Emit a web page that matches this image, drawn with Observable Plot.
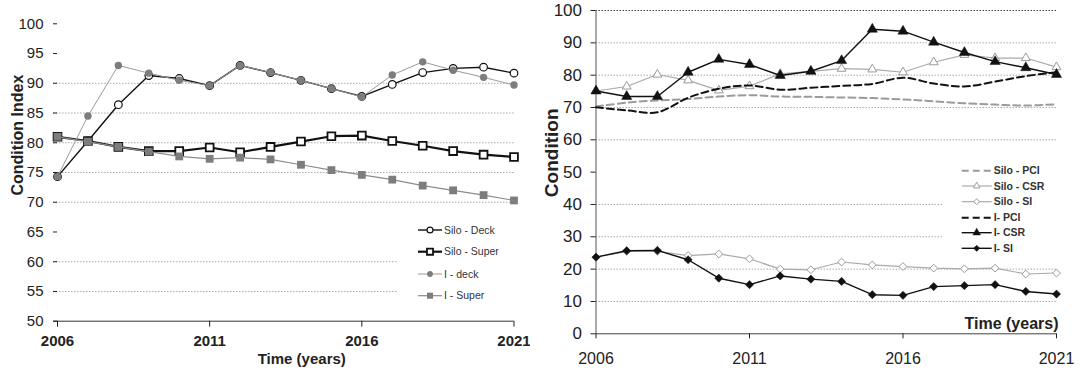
<!DOCTYPE html>
<html>
<head>
<meta charset="utf-8">
<script src="https://cdn.jsdelivr.net/npm/d3@7"></script>
<script src="https://cdn.jsdelivr.net/npm/@observablehq/plot@0.6"></script>
<style>
  body { margin: 0; background: #fff; }
  #page { position: relative; width: 1080px; height: 376px; overflow: hidden; background: #fff;
          font-family: "Liberation Sans", Arial, sans-serif; }
  #left { position: absolute; left: 0; top: 0; }
  #right { position: absolute; left: 530px; top: 0; }
  .legend { position: absolute; }
</style>
</head>
<body>
<div id="page">
  <div id="left"></div>
  <div id="right"></div>
</div>
<script>
// ---- shared time axis ----
const years = [2006, 2007, 2008, 2009, 2010, 2011, 2012, 2013, 2014, 2015, 2016, 2017, 2018, 2019, 2020, 2021];
const xTicks = [2006, 2011, 2016, 2021];

// ---- left panel: deck and superstructure condition index ----
const siloDeck  = [74.3, 80.3, 86.4, 91.3, 90.8, 89.6, 93.0, 91.8, 90.5, 89.1, 87.8, 89.8, 91.8, 92.5, 92.7, 91.7];
const siloSuper = [81.0, 80.3, 79.3, 78.6, 78.6, 79.2, 78.4, 79.3, 80.2, 81.1, 81.2, 80.3, 79.5, 78.6, 78.0, 77.6];
const iDeck     = [74.3, 84.5, 93.0, 91.7, 90.5, 89.6, 93.0, 91.8, 90.5, 89.1, 87.7, 91.4, 93.6, 92.2, 91.0, 89.7];
const iSuper    = [81.0, 80.2, 79.3, 78.5, 77.7, 77.3, 77.5, 77.2, 76.3, 75.4, 74.6, 73.8, 72.8, 72.0, 71.2, 70.3];
const leftYTicks = [50, 55, 60, 65, 70, 75, 80, 85, 90, 95, 100];
const leftGrid = [55, 60, 70, 75, 80, 85, 90];

// ---- right panel: PCI / CSR / SI condition ----
const siloPCI = [70.3, 71.5, 72.2, 72.6, 73.4, 73.8, 73.4, 73.3, 73.1, 72.9, 72.5, 71.9, 71.3, 70.9, 70.6, 71.0];
const siloCSR = [75.1, 76.5, 80.2, 78.4, 75.3, 76.6, 80.4, 81.2, 82.0, 81.8, 80.9, 84.0, 86.3, 85.3, 85.3, 82.5];
const siloSI  = [23.7, 25.5, 25.5, 24.2, 24.7, 23.2, 20.0, 19.8, 22.2, 21.3, 20.8, 20.3, 20.1, 20.3, 18.5, 18.8];
const iPCI    = [70.1, 69.1, 68.5, 73.0, 75.8, 76.8, 75.5, 76.1, 76.7, 77.3, 79.2, 77.4, 76.5, 78.0, 79.7, 80.9];
const iCSR    = [75.1, 73.4, 73.4, 80.9, 84.9, 83.3, 79.9, 81.2, 84.5, 94.2, 93.6, 90.2, 87.0, 84.2, 82.3, 80.2];
const iSI     = [23.7, 25.7, 25.8, 22.9, 17.2, 15.2, 17.9, 16.9, 16.2, 12.1, 11.9, 14.6, 14.9, 15.2, 13.1, 12.3];
const rightYTicks = [0, 10, 20, 30, 40, 50, 60, 70, 80, 90, 100];
const rightGrid = [10, 20, 30, 40, 60, 70, 80, 90];

const FONT = '"Liberation Sans", Arial, sans-serif';
const rows = (values) => values.map((v, i) => ({year: years[i], value: v}));

// series appearance (drawn in this order, later on top)
const leftSeries = [
  {label: "Silo - Deck",  values: siloDeck,  stroke: "#111", width: 1.4, symbol: "circle", r: 3.8, fill: "#fff", mstroke: "#111", mwidth: 1.2},
  {label: "Silo - Super", values: siloSuper, stroke: "#111", width: 2.2, symbol: "square", r: 4.4, fill: "#fff", mstroke: "#111", mwidth: 1.8},
  {label: "I - deck",     values: iDeck,     stroke: "#9a9a9a", width: 1, symbol: "circle", r: 3.7, fill: "#7d7d7d", mstroke: "none", mwidth: 0},
  {label: "I - Super",    values: iSuper,    stroke: "#8c8c8c", width: 1.2, symbol: "square", r: 4.4, fill: "#7d7d7d", mstroke: "none", mwidth: 0}
];
const rightSeries = [
  {label: "Silo - PCI", values: siloPCI, stroke: "#9b9b9b", width: 2, dash: "7,4", curve: "catmull-rom"},
  {label: "Silo - CSR", values: siloCSR, stroke: "#aaaaaa", width: 1.2, symbol: "triangle", r: 3.3, fill: "#fff", mstroke: "#9a9a9a", mwidth: 1},
  {label: "Silo - SI",  values: siloSI,  stroke: "#aaaaaa", width: 1.2, symbol: "diamond2", r: 3.5, fill: "#fff", mstroke: "#9a9a9a", mwidth: 1},
  {label: "I- PCI",     values: iPCI,    stroke: "#111", width: 2, dash: "7,4", curve: "catmull-rom"},
  {label: "I- CSR",     values: iCSR,    stroke: "#111", width: 1.4, symbol: "triangle", r: 3.8, fill: "#111", mstroke: "#111", mwidth: 0.5},
  {label: "I- SI",      values: iSI,     stroke: "#111", width: 1.4, symbol: "diamond2", r: 3.7, fill: "#111", mstroke: "#111", mwidth: 0.5}
];

function seriesMarks(list) {
  const marks = [];
  for (const s of list) {
    const data = rows(s.values);
    marks.push(Plot.line(data, {
      x: "year", y: "value", stroke: s.stroke, strokeWidth: s.width,
      strokeDasharray: s.dash, curve: s.curve || "linear"
    }));
    if (s.symbol) {
      marks.push(Plot.dot(data, {
        x: "year", y: "value", symbol: s.symbol, r: s.r,
        fill: s.fill, stroke: s.mstroke, strokeWidth: s.mwidth
      }));
    }
  }
  return marks;
}

// ---- left chart ----
const left = Plot.plot({
  width: 530, height: 376,
  marginLeft: 53, marginRight: 16.5, marginTop: 23.3, marginBottom: 55.3,
  x: {domain: [2006, 2021], insetLeft: 4},
  y: {domain: [50, 100]},
  style: {fontFamily: FONT, background: "transparent", color: "#222"},
  marks: [
    Plot.ruleY(leftGrid, {stroke: "#aaa", strokeDasharray: "1.5,1.5"}),
    Plot.ruleY([50], {stroke: "#333"}),
    Plot.axisY({ticks: leftYTicks, tickSize: 4, tickPadding: 10, dx: 4, fontSize: 15, label: null}),
    Plot.axisX({ticks: xTicks, tickFormat: d => String(d), tickSize: 6, tickPadding: 8,
                fontSize: 15, fontWeight: "bold", label: null}),
    Plot.text(["Time (years)"], {text: d => d, frameAnchor: "bottom", dx: 18, dy: 43,
                fontSize: 15, fontWeight: "bold"}),
    Plot.text(["Condition Index"], {text: d => d, frameAnchor: "left", rotate: -90, dx: -36, dy: 23,
                fontSize: 16, fontWeight: "bold"}),
    ...seriesMarks(leftSeries)
  ]
});
document.getElementById("left").append(left);

// ---- right chart ----
const right = Plot.plot({
  width: 550, height: 376,
  marginLeft: 65.5, marginRight: 24, marginTop: 10, marginBottom: 42.7,
  x: {domain: [2006, 2021]},
  y: {domain: [0, 100]},
  style: {fontFamily: FONT, background: "transparent", color: "#222"},
  marks: [
    Plot.ruleY(rightGrid, {stroke: "#aaa", strokeDasharray: "1.5,1.5"}),
    Plot.ruleY([100], {stroke: "#444", strokeDasharray: "1.5,1.5"}),
    Plot.ruleY([0], {stroke: "#444"}),
    Plot.ruleX([2006], {stroke: "#555"}),
    Plot.axisY({ticks: rightYTicks, tickSize: 5, tickPadding: 9, fontSize: 17, label: null}),
    Plot.axisX({ticks: xTicks, tickFormat: d => String(d), tickSize: 5, tickPadding: 14,
                fontSize: 16, label: null}),
    Plot.text(["Time (years)"], {text: d => d, frameAnchor: "bottom-right", textAnchor: "end",
                dx: 2, dy: -4.5, fontSize: 16, fontWeight: "bold"}),
    Plot.text(["Condition"], {text: d => d, frameAnchor: "left", rotate: -90, dx: -44, dy: 25,
                fontSize: 19, fontWeight: "bold"}),
    ...seriesMarks(rightSeries)
  ]
});
document.getElementById("right").append(right);

// ---- legends ----
const symbolTypes = {
  circle: d3.symbolCircle, square: d3.symbolSquare,
  triangle: d3.symbolTriangle, diamond2: d3.symbolDiamond2
};
function drawLegend(series, box, rowYs, sw, font) {
  const svg = d3.select("#page").append("svg")
    .attr("class", "legend")
    .style("left", box.left + "px").style("top", box.top + "px")
    .attr("width", box.width).attr("height", box.height);
  svg.append("rect").attr("width", box.width).attr("height", box.height).attr("fill", "#fff");
  series.forEach((s, i) => {
    const g = svg.append("g").attr("transform", `translate(0,${rowYs[i]})`);
    g.append("line").attr("x1", sw.x0).attr("x2", sw.x1)
      .attr("stroke", s.stroke).attr("stroke-width", s.width)
      .attr("stroke-dasharray", s.dash || null);
    if (s.symbol) {
      const r = s.r * sw.scale;
      g.append("path")
        .attr("transform", `translate(${(sw.x0 + sw.x1) / 2},0)`)
        .attr("d", d3.symbol(symbolTypes[s.symbol], Math.PI * r * r)())
        .attr("fill", s.fill).attr("stroke", s.mstroke).attr("stroke-width", s.mwidth);
    }
    g.append("text").attr("x", sw.x1 + 2).attr("dy", "0.35em")
      .attr("font-family", FONT).attr("font-size", font.size)
      .attr("font-weight", font.weight).attr("fill", font.color)
      .text(s.label);
  });
}

drawLegend(leftSeries, {left: 398, top: 212, width: 127, height: 96},
           [18, 39.7, 62, 83.7], {x0: 20, x1: 44, scale: 0.78},
           {size: 10.5, weight: "normal", color: "#333"});
drawLegend(rightSeries, {left: 942, top: 158, width: 130, height: 104},
           [12.7, 28, 43.7, 59.7, 74.7, 90.3], {x0: 19.7, x1: 49.7, scale: 0.75},
           {size: 10.5, weight: "bold", color: "#333"});
</script>
</body>
</html>
